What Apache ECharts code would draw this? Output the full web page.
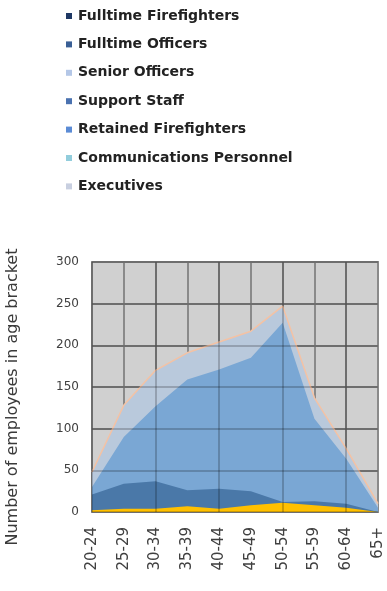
<!DOCTYPE html>
<html><head><meta charset="utf-8">
<script src="https://cdn.jsdelivr.net/npm/echarts@6/dist/echarts.min.js"></script>
<style>html,body{margin:0;padding:0;background:#fff}#c{width:387px;height:591px}</style>
</head><body><div id="c"></div>
<script>
// ---- data ----
const ageBrackets = ['20-24','25-29','30-34','35-39','40-44','45-49','50-54','55-59','60-64','65+'];
const legendNames = ['Fulltime Firefighters','Fulltime Officers','Senior Officers','Support Staff','Retained Firefighters','Communications Personnel','Executives'];
const seniorOfficers = [48, 128, 170, 191, 204, 217, 247, 137, 76, 10];
const retainedFirefighters = [30, 90, 127, 159, 171, 185, 227, 112, 64, 5];
const fulltimeOfficers = [21, 34, 37, 26, 28, 25, 12, 13, 10, 0];
const executives = [2, 4, 4, 7, 4, 8, 11, 8, 5, 0];
const fulltimeFirefighters = [];
const supportStaff = [];
const communicationsPersonnel = [];
const yMin = 0, yMax = 300, yInterval = 50;

// ---- styles ----
const legendColors = ['#1f3864','#3a5f95','#b4c7e7','#4a72b0','#5b8bd5','#92cddc','#c8cfe0'];
const FONT = 'DejaVu Sans';

function area(name, data, color, line) {
  return {
    type: 'line', name: name, data: data, symbol: 'none', silent: true, z: 3,
    xAxisIndex: 0, yAxisIndex: 0,
    itemStyle: { color: color },
    lineStyle: line || { width: 0, color: color },
    areaStyle: { color: color, opacity: 1 }
  };
}
function empty(name, data) {
  return { type: 'line', name: name, data: data, symbol: 'none', xAxisIndex: 0, yAxisIndex: 0 };
}

const chart = echarts.init(document.getElementById('c'), null, { renderer: 'canvas' });
chart.setOption({
  animation: false,
  backgroundColor: '#ffffff',
  legend: {
    orient: 'vertical', left: 61, top: 4, icon: 'rect',
    itemWidth: 6, itemHeight: 6, itemGap: 14.4, selectedMode: false,
    itemStyle: { borderWidth: 0 },
    textStyle: { fontFamily: FONT, fontWeight: 'bold', fontSize: 14, color: '#222222', lineHeight: 14, padding: [0, 0, 0, 1] },
    data: legendNames.map((n, i) => ({ name: n, itemStyle: { color: legendColors[i], borderWidth: 0 } }))
  },
  grid: { left: 92, right: 9, top: 262, bottom: 79, show: true, containLabel: false, outerBoundsMode: 'none',
          backgroundColor: '#d0d0d0', borderColor: '#8c8c8c', borderWidth: 2 },
  xAxis: [{
    type: 'category', data: ageBrackets, boundaryGap: false,
    axisTick: { show: false },
    axisLine: { lineStyle: { color: '#8a8a8a', width: 2 } },
    axisLabel: { rotate: 90, interval: 0, fontFamily: FONT, fontSize: 15, color: '#404040', margin: 15 },
    splitLine: { show: true, lineStyle: { color: '#8a8a8a', width: 2 } }
  }, {
    type: 'category', data: ageBrackets, boundaryGap: false, gridIndex: 0, z: 6,
    axisTick: { show: false }, axisLine: { show: false }, axisLabel: { show: false },
    splitLine: { show: true, lineStyle: { color: 'rgba(0,0,0,0.2)', width: 2 } }
  }],
  yAxis: [{
    type: 'value', min: yMin, max: yMax, interval: yInterval,
    axisLine: { show: false }, axisTick: { show: false },
    axisLabel: { fontFamily: FONT, fontSize: 12, color: '#404040', margin: 13 },
    splitLine: { lineStyle: { color: '#8a8a8a', width: 2 } },
    name: 'Number of employees in age bracket', nameLocation: 'middle', nameGap: 71,
    nameTextStyle: { fontFamily: FONT, fontSize: 16, color: '#3a3a3a', padding: [0, 20, 0, 0] }
  }, {
    type: 'value', min: yMin, max: yMax, interval: yInterval, gridIndex: 0, z: 6,
    axisLine: { show: false }, axisTick: { show: false }, axisLabel: { show: false },
    splitLine: { lineStyle: { color: 'rgba(0,0,0,0.2)', width: 2 } }
  }],
  series: [
    area('Senior Officers', seniorOfficers, '#b9c9dc', { width: 1.5, color: '#f4c2a4' }),
    area('Retained Firefighters', retainedFirefighters, '#7aa7d4'),
    area('Fulltime Officers', fulltimeOfficers, '#4a78a8'),
    area('Executives', executives, '#ffc000'),
    empty('Fulltime Firefighters', fulltimeFirefighters),
    empty('Support Staff', supportStaff),
    empty('Communications Personnel', communicationsPersonnel)
  ]
});
</script>
</body></html>
